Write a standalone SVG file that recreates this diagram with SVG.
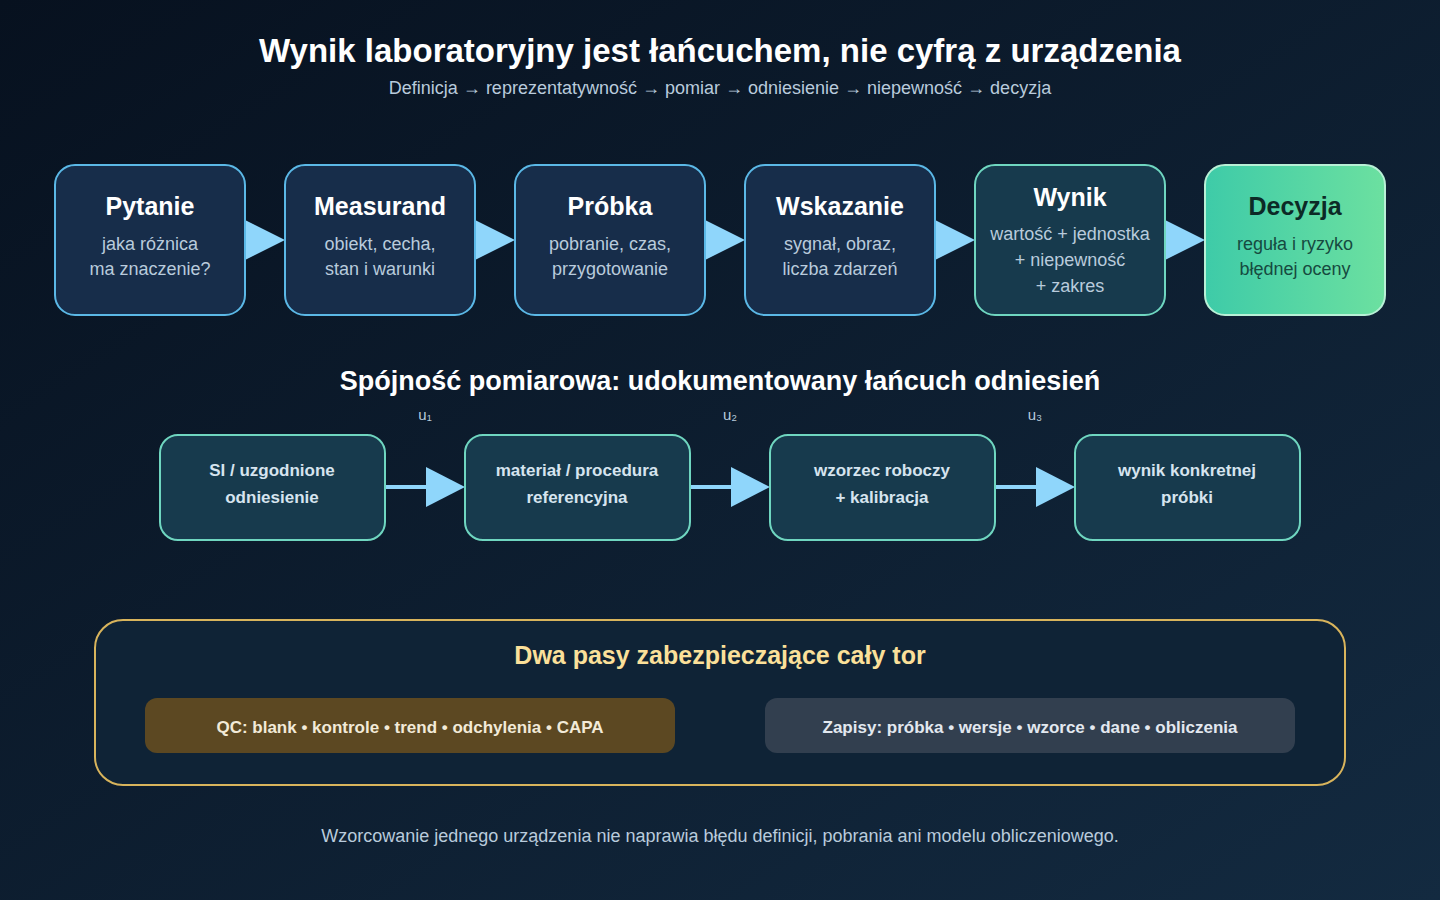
<svg xmlns="http://www.w3.org/2000/svg" width="1440" height="900" viewBox="0 0 1440 900">
<defs>
<linearGradient id="bg" x1="0" y1="0" x2="1" y2="1"><stop offset="0" stop-color="#07111f"/><stop offset="1" stop-color="#132a40"/></linearGradient>
<linearGradient id="dec" x1="0" y1="0" x2="1" y2="0"><stop offset="0" stop-color="#3ecba8"/><stop offset="1" stop-color="#6ce0a0"/></linearGradient>
<style>
text{font-family:"Liberation Sans",Arial,sans-serif;text-anchor:middle}
.box{fill:#172d4a;stroke:#5bb8e6;stroke-width:2}
.boxg{fill:#173a4d;stroke:#6fd6c0;stroke-width:2}
.t{font-size:25px;font-weight:bold;fill:#fff}
.s{font-size:18px;fill:#b9cbdc}
.b{font-size:17px;font-weight:bold;fill:#d6e4ef}
.u{font-size:15px;fill:#b9cbdc}
.ah{fill:#8fd6fb}
</style>
</defs>
<rect width="1440" height="900" fill="url(#bg)"/>
<text x="720" y="62" font-size="33" font-weight="bold" fill="#fff">Wynik laboratoryjny jest łańcuchem, nie cyfrą z urządzenia</text>
<text x="720" y="94" font-size="18" fill="#b9cbdc">Definicja → reprezentatywność → pomiar → odniesienie → niepewność → decyzja</text>

<g id="connectors">
<polygon class="ah" points="245,220 285,240 245,260"/>
<polygon class="ah" points="475,220 515,240 475,260"/>
<polygon class="ah" points="705,220 745,240 705,260"/>
<polygon class="ah" points="935,220 975,240 935,260"/>
<polygon class="ah" points="1165,220 1205,240 1165,260"/>
<g stroke="#8fd6fb" stroke-width="4"><line x1="385" y1="487" x2="430" y2="487"/><line x1="690" y1="487" x2="735" y2="487"/><line x1="995" y1="487" x2="1040" y2="487"/></g>
<polygon class="ah" points="426,467 465,487 426,507"/>
<polygon class="ah" points="731,467 770,487 731,507"/>
<polygon class="ah" points="1036,467 1075,487 1036,507"/>
<text class="u" x="425" y="420">u₁</text>
<text class="u" x="730" y="420">u₂</text>
<text class="u" x="1035" y="420">u₃</text>
</g>

<g id="n1"><rect class="box" x="55" y="165" width="190" height="150" rx="20"/><text class="t" x="150" y="215">Pytanie</text><text class="s" x="150" y="250">jaka różnica</text><text class="s" x="150" y="275">ma znaczenie?</text></g>
<g id="n2"><rect class="box" x="285" y="165" width="190" height="150" rx="20"/><text class="t" x="380" y="215">Measurand</text><text class="s" x="380" y="250">obiekt, cecha,</text><text class="s" x="380" y="275">stan i warunki</text></g>
<g id="n3"><rect class="box" x="515" y="165" width="190" height="150" rx="20"/><text class="t" x="610" y="215">Próbka</text><text class="s" x="610" y="250">pobranie, czas,</text><text class="s" x="610" y="275">przygotowanie</text></g>
<g id="n4"><rect class="box" x="745" y="165" width="190" height="150" rx="20"/><text class="t" x="840" y="215">Wskazanie</text><text class="s" x="840" y="250">sygnał, obraz,</text><text class="s" x="840" y="275">liczba zdarzeń</text></g>
<g id="n5"><rect class="boxg" x="975" y="165" width="190" height="150" rx="20"/><text class="t" x="1070" y="206">Wynik</text><text class="s" x="1070" y="240">wartość + jednostka</text><text class="s" x="1070" y="266">+ niepewność</text><text class="s" x="1070" y="292">+ zakres</text></g>
<g id="n6"><rect x="1205" y="165" width="180" height="150" rx="20" fill="url(#dec)" stroke="#b8f0d6" stroke-width="2"/><text class="t" x="1295" y="215" fill="#0c2a26" style="fill:#0c2a26">Decyzja</text><text class="s" x="1295" y="250" style="fill:#164a40">reguła i ryzyko</text><text class="s" x="1295" y="275" style="fill:#164a40">błędnej oceny</text></g>

<text x="720" y="390" font-size="27" font-weight="bold" fill="#fff">Spójność pomiarowa: udokumentowany łańcuch odniesień</text>

<g id="r1"><rect class="boxg" x="160" y="435" width="225" height="105" rx="18"/><text class="b" x="272" y="476">SI / uzgodnione</text><text class="b" x="272" y="503">odniesienie</text></g>
<g id="r2"><rect class="boxg" x="465" y="435" width="225" height="105" rx="18"/><text class="b" x="577" y="476">materiał / procedura</text><text class="b" x="577" y="503">referencyjna</text></g>
<g id="r3"><rect class="boxg" x="770" y="435" width="225" height="105" rx="18"/><text class="b" x="882" y="476">wzorzec roboczy</text><text class="b" x="882" y="503">+ kalibracja</text></g>
<g id="r4"><rect class="boxg" x="1075" y="435" width="225" height="105" rx="18"/><text class="b" x="1187" y="476">wynik konkretnej</text><text class="b" x="1187" y="503">próbki</text></g>

<g id="panel">
<rect x="95" y="620" width="1250" height="165" rx="28" fill="#0f2336" stroke="#d8b45c" stroke-width="2"/>
<text x="720" y="664" font-size="25" font-weight="bold" fill="#fbe09a">Dwa pasy zabezpieczające cały tor</text>
<rect x="145" y="698" width="530" height="55" rx="12" fill="#5c4822"/>
<text class="b" x="410" y="733" style="fill:#f2ead8">QC: blank • kontrole • trend • odchylenia • CAPA</text>
<rect x="765" y="698" width="530" height="55" rx="12" fill="#323f4f"/>
<text class="b" x="1030" y="733" style="fill:#e2e8ef">Zapisy: próbka • wersje • wzorce • dane • obliczenia</text>
</g>
<text x="720" y="842" font-size="18" fill="#b9cbdc">Wzorcowanie jednego urządzenia nie naprawia błędu definicji, pobrania ani modelu obliczeniowego.</text>
</svg>
